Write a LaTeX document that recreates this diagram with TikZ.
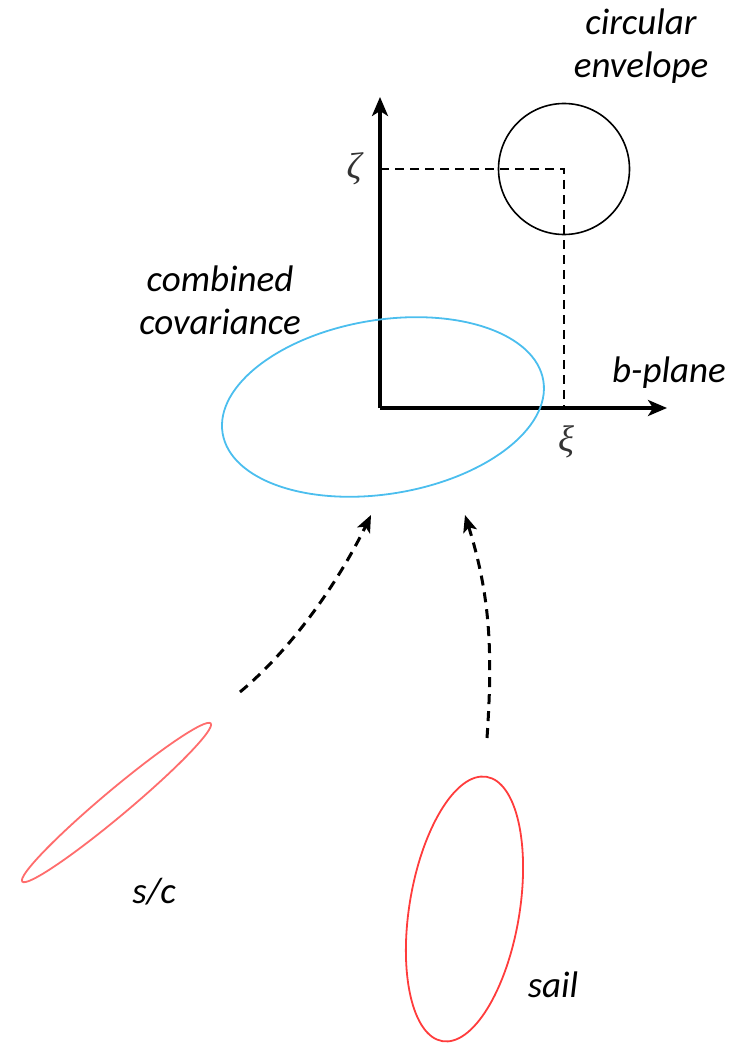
\documentclass[tikz,border=0pt]{standalone}
\usepackage{fontspec}
\setmainfont{Carlito}
\newfontfamily\grkfont{Liberation Serif}
\usetikzlibrary{arrows.meta}
\definecolor{covblue}{RGB}{75,190,238}
\definecolor{sailred}{RGB}{255,60,60}
\tikzset{
  lbl/.style={font=\fontsize{37}{43}\selectfont\itshape, align=center, inner sep=0pt},
  grklbl/.style={font=\grkfont\fontsize{37}{40}\selectfont\itshape, text=black!80, inner sep=0pt},
  axis/.style={line width=3.2pt, -{Stealth[length=19pt,width=16pt,inset=5pt]}},
  guide/.style={line width=2.4pt, dash pattern=on 9pt off 6pt},
  flow/.style={line width=3pt, dash pattern=on 10pt off 7pt, -{Stealth[length=17pt,width=14pt,inset=4pt]}},
  env/.style={line width=1.6pt, black},
  cov/.style={line width=1.8pt, covblue},
  obj/.style={line width=1.8pt, sailred}
}
\begin{document}
\begin{tikzpicture}[x=1pt,y=-1pt]
\useasboundingbox (0,0) rectangle (739,1043);
% named points
\coordinate (O) at (380,408);
\coordinate (Ytip) at (380,97);
\coordinate (Xtip) at (667,408);
\coordinate (Zy) at (380,169);
\coordinate (C) at (564,169);
\coordinate (Xx) at (564,408);
% circular envelope
\draw[env] (C) circle[radius=65.5pt];
% dashed guides
\draw[guide] (Zy) -- (C) -- (Xx);
% axes
\draw[axis] (O) -- (Ytip);
\draw[axis] (O) -- (Xtip);
% combined covariance ellipse
\coordinate (Cov) at (383,407);
\draw[cov, rotate around={9.3:(Cov)}] (Cov) ellipse[x radius=162.5pt, y radius=87pt];
% s/c ellipse
\coordinate (SC) at (116.5,802.5);
\draw[obj, sailred!75, rotate around={40:(SC)}] (SC) ellipse[x radius=123pt, y radius=13pt];
% sail ellipse
\coordinate (SL) at (464.5,909);
\draw[obj, rotate around={-9.5:(SL)}] (SL) ellipse[x radius=55pt, y radius=134pt];
% flow arrows
\coordinate (A1s) at (240,692);
\coordinate (A1e) at (371,515);
\coordinate (A2s) at (487,738);
\coordinate (A2e) at (465,515);
\draw[flow] (A1s) .. controls (294,647) and (340,579) .. (A1e);
\draw[flow] (A2s) .. controls (493,650) and (490,595) .. (A2e);
% labels
\node[grklbl] (zeta) at (354,169) {ζ};
\node[grklbl] (xi) at (566,442) {ξ};
\node[lbl] (envlbl) at (641,46) {circular\\envelope};
\node[lbl] (covlbl) at (220,300) {combined\\covariance};
\node[lbl] (bplane) at (669,373) {b-plane};
\node[lbl] (sclbl) at (154,892) {s/c};
\node[lbl] (saillbl) at (553,985) {sail};
\end{tikzpicture}
\end{document}
